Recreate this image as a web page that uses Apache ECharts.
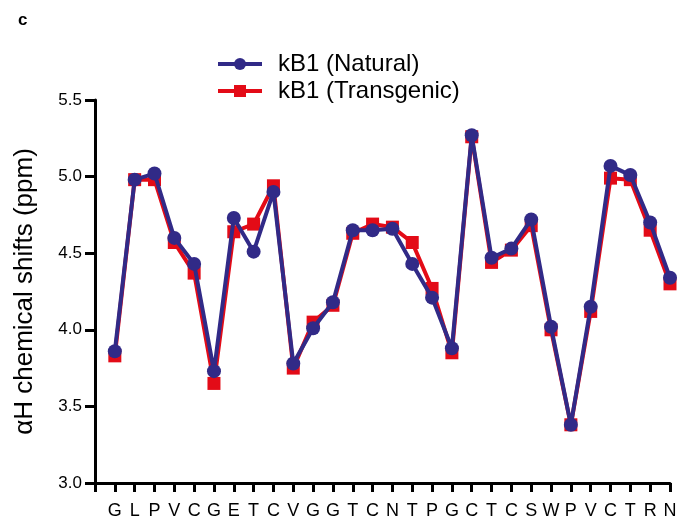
<!DOCTYPE html>
<html>
<head>
<meta charset="utf-8">
<script src="https://cdn.jsdelivr.net/npm/echarts@6/dist/echarts.min.js"></script>
<style>
  html, body { margin: 0; padding: 0; background: #fff; }
  #chart { width: 693px; height: 521px; }
</style>
</head>
<body>
<div id="chart"></div>
<script>
// residue sequence along the x axis
const residues = ['G','L','P','V','C','G','E','T','C','V','G','G','T','C','N','T','P','G','C','T','C','S','W','P','V','C','T','R','N']

// alpha-H chemical shifts (ppm)
const natural = [3.86, 4.98, 5.02, 4.60, 4.43, 3.73, 4.73, 4.51, 4.90, 3.78,
                 4.01, 4.18, 4.65, 4.65, 4.66, 4.43, 4.21, 3.88, 5.27, 4.47,
                 4.53, 4.72, 4.02, 3.38, 4.15, 5.07, 5.01, 4.70, 4.34]
const transgenic = [3.83, 4.98, 4.98, 4.57, 4.37, 3.65, 4.64, 4.69, 4.94, 3.75,
                    4.05, 4.16, 4.63, 4.69, 4.67, 4.57, 4.27, 3.85, 5.26, 4.44,
                    4.52, 4.68, 4.00, 3.38, 4.12, 4.99, 4.98, 4.65, 4.30]

const yTicks = [3.0, 3.5, 4.0, 4.5, 5.0, 5.5]

const BLUE = '#312a87'
const RED = '#e30b17'
const FONT = 'Liberation Sans, Arial, sans-serif'

const chart = echarts.init(document.getElementById('chart'))

chart.setOption({
  animation: false,
  graphic: [{
    type: 'text',
    left: 18,
    top: 12,
    style: { text: 'c', font: 'bold 17px ' + FONT, fill: '#000' }
  }],
  legend: {
    orient: 'vertical',
    left: 211,
    top: 47,
    itemWidth: 44,
    itemHeight: 15,
    itemGap: 3,
    lineStyle: { width: 4 },
    textStyle: { fontFamily: FONT, fontSize: 24, color: '#000', padding: [0, 0, 0, 11] },
    data: ['kB1 (Natural)', 'kB1 (Transgenic)']
  },
  grid: { left: 95, top: 100, width: 575, height: 383 },
  xAxis: {
    type: 'value',
    min: -1,
    max: 28,
    interval: 1,
    splitLine: { show: false },
    axisLine: { show: true, lineStyle: { color: '#000', width: 3 } },
    axisTick: { show: true, length: 9, lineStyle: { color: '#000', width: 3 } },
    axisLabel: {
      margin: 19,
      fontFamily: FONT,
      fontSize: 18,
      color: '#000',
      formatter: v => residues[v] || ''
    }
  },
  yAxis: {
    type: 'value',
    min: yTicks[0],
    max: yTicks[yTicks.length - 1],
    interval: 0.5,
    name: 'αH chemical shifts (ppm)',
    nameLocation: 'middle',
    nameGap: 57,
    nameTextStyle: { fontFamily: FONT, fontSize: 26, color: '#000' },
    splitLine: { show: false },
    axisLine: { show: true, onZero: false, lineStyle: { color: '#000', width: 3 } },
    axisTick: { show: true, length: 10, lineStyle: { color: '#000', width: 3 } },
    axisLabel: {
      margin: 13,
      fontFamily: FONT,
      fontSize: 17,
      color: '#000',
      formatter: v => v.toFixed(1)
    }
  },
  series: [
    {
      name: 'kB1 (Transgenic)',
      type: 'line',
      z: 2,
      data: transgenic.map((v, i) => [i, v]),
      symbol: 'rect',
      symbolSize: 13,
      itemStyle: { color: RED },
      lineStyle: { color: RED, width: 4 }
    },
    {
      name: 'kB1 (Natural)',
      type: 'line',
      z: 3,
      data: natural.map((v, i) => [i, v]),
      symbol: 'circle',
      symbolSize: 14,
      itemStyle: { color: BLUE },
      lineStyle: { color: BLUE, width: 4 }
    }
  ]
})
</script>
</body>
</html>
